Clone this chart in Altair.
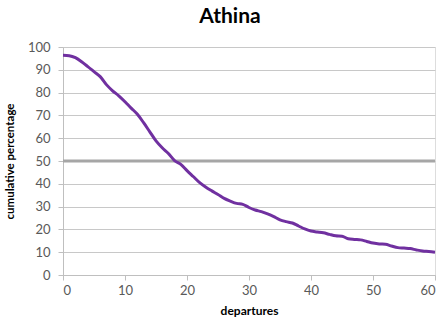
import altair as alt
import pandas as pd

departures = list(range(0, 61))
cumulative_percentage = [
    96.4, 96.2, 95.3, 93.5, 91.4, 89.2, 87.0, 83.5, 80.8, 78.6,
    76.0, 73.2, 70.5, 66.8, 62.8, 58.8, 55.8, 53.3, 50.2, 48.5,
    45.8, 43.2, 40.6, 38.6, 36.9, 35.3, 33.6, 32.4, 31.4, 31.0,
    29.6, 28.5, 27.8, 26.8, 25.6, 24.2, 23.4, 22.8, 21.5, 20.2,
    19.3, 18.9, 18.5, 17.8, 17.2, 17.0, 15.9, 15.6, 15.4, 14.7,
    14.0, 13.6, 13.5, 12.7, 12.0, 11.8, 11.6, 11.0, 10.5, 10.3,
    10.0,
]
reference_level = [50]
x_ticks = [0, 10, 20, 30, 40, 50, 60]
y_ticks = [0, 10, 20, 30, 40, 50, 60, 70, 80, 90, 100]

df = pd.DataFrame({"departures": departures, "pct": cumulative_percentage})
ref = pd.DataFrame({"pct": reference_level})

FONT = "Lato"

x_axis = alt.Axis(
    title="departures", values=x_ticks, grid=False,
    domainColor="#bfbfbf", tickColor="#bfbfbf", tickSize=5,
    labelColor="#595959", labelFontSize=13, labelFont=FONT, labelPadding=4,
    titleFont=FONT, titleFontSize=12, titleFontWeight="bold", titleColor="#000000",
    titlePadding=8,
)
y_axis = alt.Axis(
    title="cumulative percentage", values=y_ticks, grid=True,
    gridColor="#c8c8c8", gridWidth=1, labelOverlap=False,
    domainColor="#bfbfbf", tickColor="#bfbfbf", tickSize=5,
    labelColor="#595959", labelFontSize=13, labelFont=FONT, labelPadding=8,
    titleFont=FONT, titleFontSize=11.5, titleFontWeight="bold", titleColor="#000000",
    titlePadding=12,
)
y_scale = alt.Scale(domain=[0, 100], nice=False)

line = alt.Chart(df).mark_line(color="#7030A0", strokeWidth=3, interpolate="monotone").encode(
    x=alt.X("departures:Q", scale=alt.Scale(domain=[0, 60], nice=False), axis=x_axis),
    y=alt.Y("pct:Q", scale=y_scale, axis=y_axis),
)

rule = alt.Chart(ref).mark_rule(color="#a6a6a6", strokeWidth=3).encode(
    y=alt.Y("pct:Q", scale=y_scale, axis=y_axis)
)

chart = (
    alt.layer(rule, line)
    .properties(
        width=372,
        height=228,
        autosize=alt.AutoSizeParams(type="none"),
        padding={"left": 63, "top": 47, "right": 8, "bottom": 49},
        title=alt.TitleParams(
            "Athina", font=FONT, fontSize=21, fontWeight="bold", color="#000000",
            anchor="middle", frame="group", dx=-19, offset=14,
        ),
    )
    .configure_view(stroke=None)
    .configure(background="white")
)

chart.save("out.html", embed_options={"renderer": "svg", "actions": False})
